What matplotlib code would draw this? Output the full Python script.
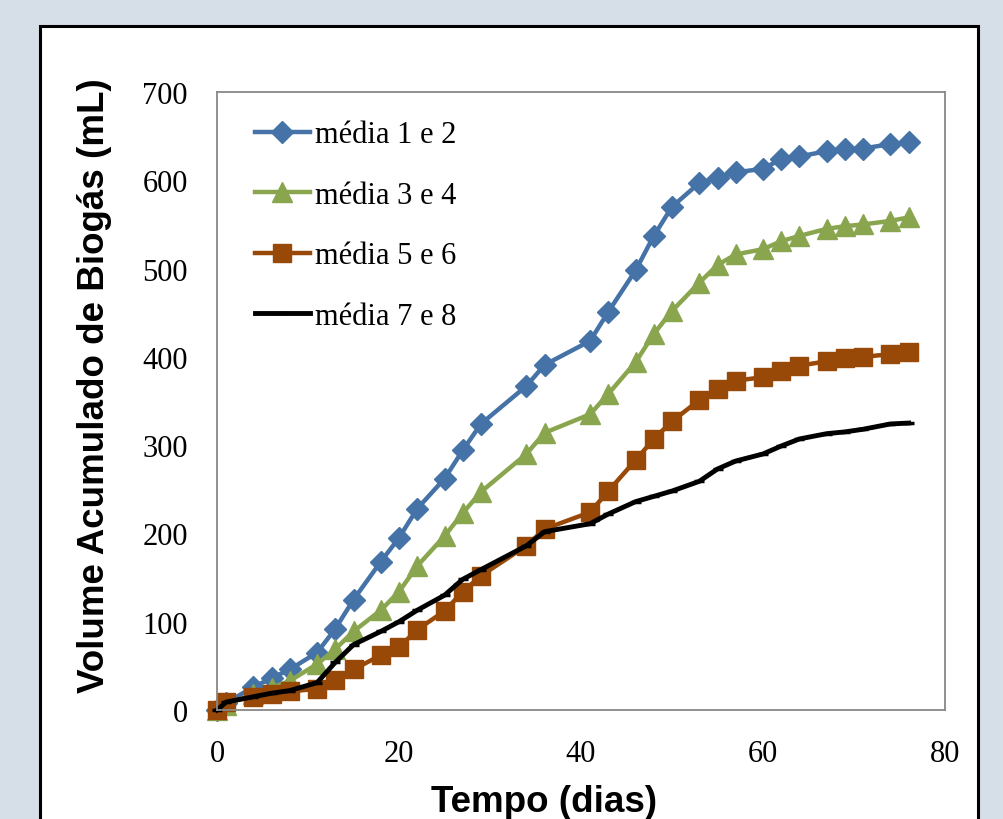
import matplotlib
matplotlib.use('Agg')
from matplotlib import pyplot as plt
from matplotlib.patches import Rectangle

# tempo (dias)
days = [0, 1, 4, 6, 8, 11, 13, 15, 18, 20, 22, 25, 27, 29, 34, 36, 41, 43,
        46, 48, 50, 53, 55, 57, 60, 62, 64, 67, 69, 71, 74, 76]
# volume acumulado de biogas (mL)
media_1_2 = [0, 8, 26, 36, 46, 65, 92, 125, 168, 195, 228, 262, 294, 324, 367, 391,
             418, 451, 498, 537, 570, 597, 603, 609, 613, 624, 627, 633, 635, 636, 641, 643]
media_3_4 = [0, 6, 18, 25, 33, 52, 69, 89, 113, 134, 163, 197, 223, 247, 290, 314,
             335, 358, 394, 426, 452, 484, 504, 516, 522, 531, 537, 545, 548, 550, 554, 558]
media_5_6 = [0, 9, 15, 18, 21, 24, 34, 46, 62, 71, 91, 112, 134, 152, 186, 205,
             224, 248, 283, 307, 327, 351, 364, 373, 377, 384, 390, 395, 399, 400, 403, 405]
media_7_8 = [0, 9, 15, 19, 22, 31, 54, 74, 89, 100, 113, 130, 148, 159, 186, 202,
             211, 222, 236, 242, 248, 259, 273, 282, 290, 299, 307, 313, 315, 318, 324, 325]

W, H = 1004, 820
fig = plt.figure(figsize=(W / 100, H / 100), dpi=100)
fig.patch.set_facecolor('#d6dee8')

# white frame of the chart
fig.patches.append(Rectangle((40 / W, -0.1), (978 - 40) / W, 1 - 27 / H + 0.1,
                             transform=fig.transFigure, facecolor='white',
                             edgecolor='black', linewidth=2.2, zorder=-10))

ax = fig.add_axes([217 / W, 1 - 711 / H, (945 - 217) / W, (711 - 93) / H])
ax.set_facecolor('white')

ax.plot(days, media_1_2, color='#4572A7', lw=3.2, marker='D', ms=11,
        label='média 1 e 2', clip_on=False)
ax.plot(days, media_3_4, color='#89A54E', lw=3.2, marker='^', ms=14,
        label='média 3 e 4', clip_on=False)
ax.plot(days, media_5_6, color='#984807', lw=3.2, marker='s', ms=13,
        label='média 5 e 6', clip_on=False)
ax.plot(days, media_7_8, color='black', lw=3.5, marker='_', ms=7, mew=2.5,
        label='média 7 e 8', clip_on=False)

ax.set_xlim(0, 80)
ax.set_ylim(0, 700)
ax.set_xticks(range(0, 81, 20))
ax.set_yticks(range(0, 701, 100))

for s in ax.spines.values():
    s.set_color('#888888')
    s.set_linewidth(1.3)

serif = 'Liberation Serif'
ax.tick_params(length=0, labelsize=22)
ax.tick_params(axis='y', pad=21)
ax.tick_params(axis='x', pad=21)
for lab in ax.get_xticklabels() + ax.get_yticklabels():
    lab.set_fontfamily(serif)

ax.set_ylabel('Volume Acumulado de Biogás (mL)', fontfamily='Liberation Sans',
              fontweight='bold', fontsize=26.5, va='center')
ax.yaxis.set_label_coords(-0.168, 0.527)
ax.set_xlabel('Tempo (dias)', fontfamily='Liberation Sans',
              fontweight='bold', fontsize=26.5, va='center')
ax.xaxis.set_label_coords(0.449, -0.148)

ax.legend(loc='upper left', bbox_to_anchor=(0.052, 0.954), frameon=False,
          prop={'family': serif, 'size': 22}, handlelength=1.8,
          handletextpad=0.17, labelspacing=1.03, borderpad=0, borderaxespad=0)

plt.savefig('out.png', dpi=100, facecolor=fig.get_facecolor())
